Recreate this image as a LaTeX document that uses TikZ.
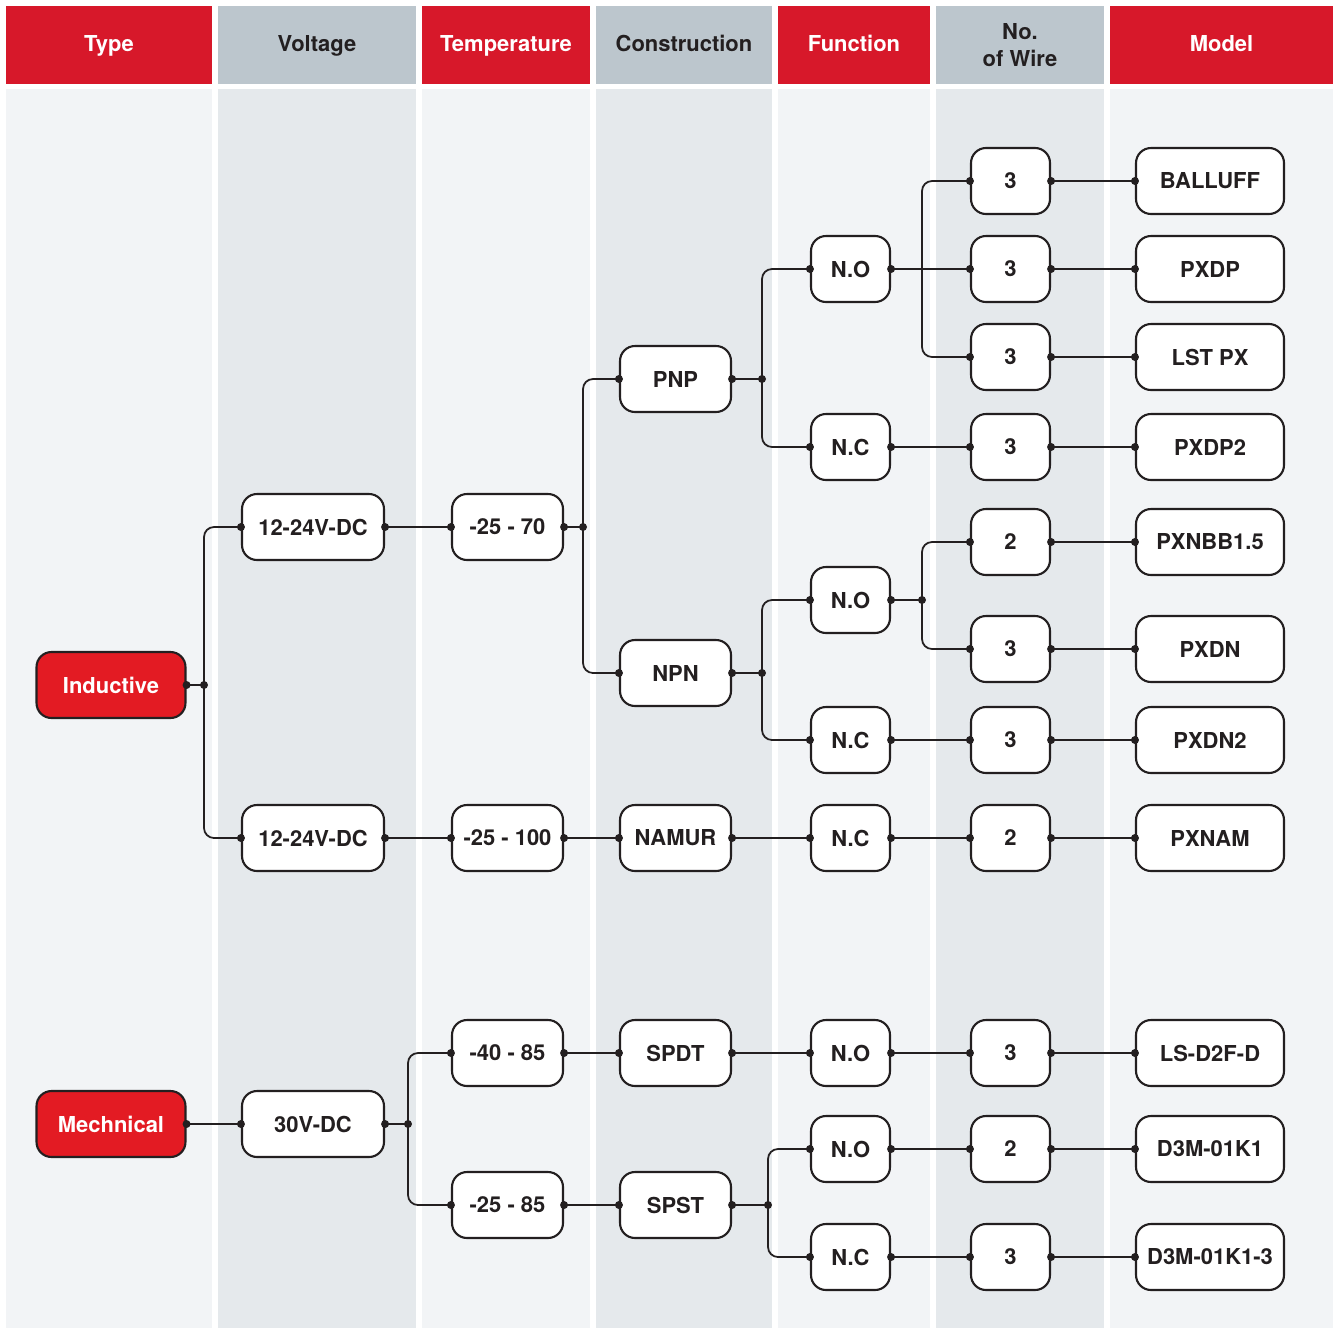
\documentclass[tikz,border=0pt]{standalone}
\usepackage{fontspec}
\setmainfont{TeX Gyre Heros}
\definecolor{hdrred}{HTML}{D7182A}
\definecolor{hdrgray}{HTML}{BCC6CD}
\definecolor{bodylight}{HTML}{F2F4F6}
\definecolor{bodydark}{HTML}{E5E9EC}
\definecolor{typered}{HTML}{E31B23}
\definecolor{ink}{HTML}{231F20}
\tikzset{
	box/.style={shape=rectangle, rounded corners=0.3cm, draw=ink, line width=1.2pt, fill=white, minimum height=1.32cm, inner sep=0pt, font=\fontsize{12.5}{15}\selectfont\bfseries, text=ink},
	typebox/.style={box, fill=typered, text=white, minimum width=2.98cm},
	voltbox/.style={box, minimum width=2.84cm},
	tempbox/.style={box, minimum width=2.22cm},
	consbox/.style={box, minimum width=2.22cm},
	funcbox/.style={box, minimum width=1.58cm},
	wirebox/.style={box, minimum width=1.58cm},
	modelbox/.style={box, minimum width=2.96cm},
	hdr/.style={shape=rectangle, inner sep=0pt, minimum height=1.56cm, align=center, font=\fontsize{12.5}{15.3}\selectfont\bfseries},
	oneline/.style={text height=0.72em, text depth=0pt},
	redhdr/.style={hdr, fill=hdrred, text=white},
	grayhdr/.style={hdr, fill=hdrgray, text=ink},
	wire/.style={draw=ink, line width=1pt, rounded corners=0.2cm},
}
\begin{document}
\begin{tikzpicture}[x=0.02cm, y=-0.02cm]
	\useasboundingbox (0,0) rectangle (1335,1328);
	% Column bands:
	\fill[bodylight] (6,89) rectangle (212,1328);
	\fill[bodydark] (218,89) rectangle (416,1328);
	\fill[bodylight] (422,89) rectangle (590,1328);
	\fill[bodydark] (596,89) rectangle (772,1328);
	\fill[bodylight] (778,89) rectangle (930,1328);
	\fill[bodydark] (936,89) rectangle (1104,1328);
	\fill[bodylight] (1110,89) rectangle (1333,1328);
	% Headers:
	\node[redhdr, oneline, minimum width=4.12cm] (HType) at (109,45) {Type};
	\node[grayhdr, oneline, minimum width=3.96cm] (HVolt) at (317,45) {Voltage};
	\node[redhdr, oneline, minimum width=3.36cm] (HTemp) at (506,45) {Temperature};
	\node[grayhdr, oneline, minimum width=3.52cm] (HCons) at (684,45) {Construction};
	\node[redhdr, oneline, minimum width=3.04cm] (HFunc) at (854,45) {Function};
	\node[grayhdr, minimum width=3.36cm] (HWire) at (1020,45) {No.\\of Wire};
	\node[redhdr, oneline, minimum width=4.46cm] (HModel) at (1221.5,45) {Model};
	% Type and voltage:
	\node[typebox] (Ind) at (111,685) {Inductive};
	\node[typebox] (Mech) at (111,1124) {Mechnical};
	\node[voltbox] (V1) at (313,527) {12-24V-DC};
	\node[voltbox] (V2) at (313,838) {12-24V-DC};
	\node[voltbox] (V3) at (313,1124) {30V-DC};
	% Temperature:
	\node[tempbox] (T1) at (507.5,527) {-25 - 70};
	\node[tempbox] (T2) at (507.5,838) {-25 - 100};
	\node[tempbox] (T3) at (507.5,1053) {-40 - 85};
	\node[tempbox] (T4) at (507.5,1205) {-25 - 85};
	% Construction:
	\node[consbox] (PNP) at (675.5,379) {PNP};
	\node[consbox] (NPN) at (675.5,673) {NPN};
	\node[consbox] (NAM) at (675.5,838) {NAMUR};
	\node[consbox] (SPDT) at (675.5,1053) {SPDT};
	\node[consbox] (SPST) at (675.5,1205) {SPST};
	% Function:
	\node[funcbox] (F1) at (850.5,269) {N.O};
	\node[funcbox] (F2) at (850.5,447) {N.C};
	\node[funcbox] (F3) at (850.5,600) {N.O};
	\node[funcbox] (F4) at (850.5,740) {N.C};
	\node[funcbox] (F5) at (850.5,838) {N.C};
	\node[funcbox] (F6) at (850.5,1053) {N.O};
	\node[funcbox] (F7) at (850.5,1149) {N.O};
	\node[funcbox] (F8) at (850.5,1257) {N.C};
	% No. of wire:
	\node[wirebox] (W1) at (1010.5,181) {3};
	\node[wirebox] (W2) at (1010.5,269) {3};
	\node[wirebox] (W3) at (1010.5,357) {3};
	\node[wirebox] (W4) at (1010.5,447) {3};
	\node[wirebox] (W5) at (1010.5,542) {2};
	\node[wirebox] (W6) at (1010.5,649) {3};
	\node[wirebox] (W7) at (1010.5,740) {3};
	\node[wirebox] (W8) at (1010.5,838) {2};
	\node[wirebox] (W9) at (1010.5,1053) {3};
	\node[wirebox] (W10) at (1010.5,1149) {2};
	\node[wirebox] (W11) at (1010.5,1257) {3};
	% Model:
	\node[modelbox] (M1) at (1210,181) {BALLUFF};
	\node[modelbox] (M2) at (1210,269) {PXDP};
	\node[modelbox] (M3) at (1210,357) {LST PX};
	\node[modelbox] (M4) at (1210,447) {PXDP2};
	\node[modelbox] (M5) at (1210,542) {PXNBB1.5};
	\node[modelbox] (M6) at (1210,649) {PXDN};
	\node[modelbox] (M7) at (1210,740) {PXDN2};
	\node[modelbox] (M8) at (1210,838) {PXNAM};
	\node[modelbox] (M9) at (1210,1053) {LS-D2F-D};
	\node[modelbox] (M10) at (1210,1149) {D3M-01K1};
	\node[modelbox] (M11) at (1210,1257) {D3M-01K1-3};
	% Branch points:
	\coordinate (J1) at (204,685);
	\coordinate (J2) at (583,527);
	\coordinate (J3) at (762,379);
	\coordinate (J4) at (762,673);
	\coordinate (J5) at (922,269);
	\coordinate (J6) at (922,600);
	\coordinate (J7) at (408,1124);
	\coordinate (J8) at (768,1205);
	% Wires:
	\draw[wire] (Ind.east) -- (J1);
	\draw[wire] (J1) |- (V1.west);
	\draw[wire] (J1) |- (V2.west);
	\draw[wire] (V1.east) -- (T1.west);
	\draw[wire] (T1.east) -- (J2);
	\draw[wire] (J2) |- (PNP.west);
	\draw[wire] (J2) |- (NPN.west);
	\draw[wire] (PNP.east) -- (J3);
	\draw[wire] (J3) |- (F1.west);
	\draw[wire] (J3) |- (F2.west);
	\draw[wire] (F1.east) -- (W2.west);
	\draw[wire] (W1.west) -| (J5) |- (W3.west);
	\draw[wire] (F2.east) -- (W4.west);
	\draw[wire] (NPN.east) -- (J4);
	\draw[wire] (J4) |- (F3.west);
	\draw[wire] (J4) |- (F4.west);
	\draw[wire] (F3.east) -- (J6);
	\draw[wire] (J6) |- (W5.west);
	\draw[wire] (J6) |- (W6.west);
	\draw[wire] (F4.east) -- (W7.west);
	\draw[wire] (V2.east) -- (T2.west) (T2.east) -- (NAM.west) (NAM.east) -- (F5.west) (F5.east) -- (W8.west);
	\draw[wire] (Mech.east) -- (V3.west);
	\draw[wire] (V3.east) -- (J7);
	\draw[wire] (J7) |- (T3.west);
	\draw[wire] (J7) |- (T4.west);
	\draw[wire] (T3.east) -- (SPDT.west) (SPDT.east) -- (F6.west) (F6.east) -- (W9.west);
	\draw[wire] (T4.east) -- (SPST.west);
	\draw[wire] (SPST.east) -- (J8);
	\draw[wire] (J8) |- (F7.west);
	\draw[wire] (J8) |- (F8.west);
	\draw[wire] (F7.east) -- (W10.west);
	\draw[wire] (F8.east) -- (W11.west);
	\foreach \i in {1,...,11}
		\draw[wire] (W\i.east) -- (M\i.west);
	% Dots:
	\foreach \p in {Ind.east, J1, V1.west, V2.west, V1.east, T1.west, T1.east, J2, PNP.west, NPN.west, PNP.east, J3, F1.west, F2.west, F1.east, F2.east, NPN.east, J4, F3.west, F4.west, F3.east, J6, F4.east, V2.east, T2.west, T2.east, NAM.west, NAM.east, F5.west, F5.east, Mech.east, V3.west, V3.east, J7, T3.west, T4.west, T3.east, SPDT.west, SPDT.east, F6.west, F6.east, T4.east, SPST.west, SPST.east, J8, F7.west, F8.west, F7.east, F8.east}
		\fill[ink] (\p) circle (0.08cm);
	\foreach \i in {1,...,11}
		\fill[ink] (W\i.west) circle (0.08cm) (W\i.east) circle (0.08cm) (M\i.west) circle (0.08cm);
\end{tikzpicture}
\end{document}
